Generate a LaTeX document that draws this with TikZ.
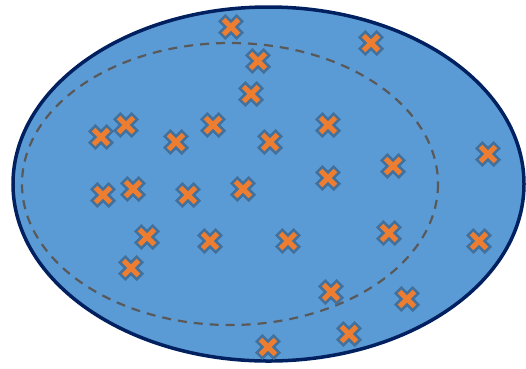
\documentclass[tikz,border=0pt]{standalone}
\usetikzlibrary{positioning}
\definecolor{areablue}{RGB}{91,155,213}
\definecolor{rimnavy}{RGB}{0,32,96}
\definecolor{dashgrey}{RGB}{89,89,89}
\definecolor{xorange}{RGB}{237,125,49}
\definecolor{xedge}{RGB}{65,113,156}
\tikzset{
  outer/.style={draw=rimnavy,fill=areablue,line width=3.5pt},
  inner/.style={draw=dashgrey,line width=2.2pt,dash pattern=on 9pt off 7pt},
  xmark/.pic={\filldraw[fill=xorange,draw=xedge,line width=2.5pt,rotate=45]
    (4,12)--(4,4)--(12,4)--(12,-4)--(4,-4)--(4,-12)--(-4,-12)--(-4,-4)
    --(-12,-4)--(-12,4)--(-4,4)--(-4,12)--cycle;}
}
\begin{document}
\begin{tikzpicture}[x=1pt,y=-1pt]
    \useasboundingbox (0,0) rectangle (526,368);
    \coordinate (big) at (268.5,184); \coordinate (small) at (230,184);
    \draw[outer] (big) ellipse [x radius=255.5, y radius=177];
    \draw[inner] (small) ellipse [x radius=208, y radius=141];
    \foreach \px/\py [count=\i] in {231/27,371/43,258/61,251/94,126/125,101/137,176/142,213/125,
      270/142,328/125,488/154,393/166,328/178,103/195,133/189,188/195,243/189,147/237,
      210/241,288/241,389/233,479/241,131/268,331/292,407/299,349/334,268/347}
      \pic (x\i) at (\px,\py) {xmark};
\end{tikzpicture}
\end{document}
